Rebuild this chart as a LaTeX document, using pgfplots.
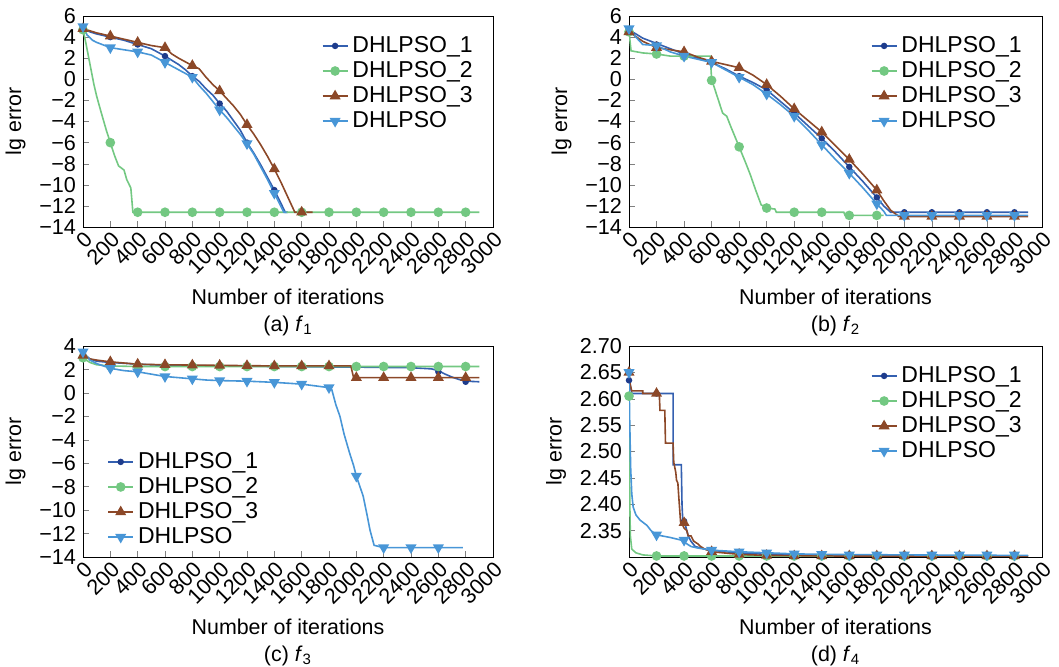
\documentclass[border=0pt]{standalone}
\usepackage{pgfplots}
\pgfplotsset{compat=1.18}
\usepackage{fontspec}
\setmainfont{Liberation Sans}

\definecolor{c1}{RGB}{52,96,176}
\definecolor{c1m}{RGB}{30,60,140}
\definecolor{c2}{RGB}{115,200,130}
\definecolor{c3}{RGB}{140,72,40}
\definecolor{c4}{RGB}{72,150,215}

\pgfplotsset{
  s1/.style={color=c1, line width=0.8pt, mark=*, mark size=1.2pt, mark options={fill=c1m, draw=c1m, solid}},
  s2/.style={color=c2, line width=0.8pt, mark=*, mark size=2pt, mark options={fill=c2, draw=c2, solid}},
  s3/.style={color=c3, line width=0.8pt, mark=triangle*, mark size=2.4pt, mark options={fill=c3, draw=c3, solid}},
  s4/.style={color=c4, line width=0.8pt, mark=triangle*, mark size=2.4pt, mark options={fill=c4, draw=c4, solid, rotate=180}},
  myax/.style={
    scale only axis, height=105.5pt, anchor=north west,
    xmin=0, xmax=3000, xtick={0,200,...,3000},
    tick align=inside, xtick pos=bottom, ytick pos=left,
    major tick length=3pt,
    /pgf/number format/assume math mode=true,
    /pgf/number format/1000 sep={},
    tick label style={font=\fontsize{10.8}{12}\selectfont},
    xticklabel style={rotate=45, anchor=north east, inner sep=1pt},
    label style={font=\fontsize{10.7}{13.5}\selectfont},
    xlabel style={align=center, yshift=-2pt},
    ylabel={lg error},
    legend style={draw=none, fill=none, font=\fontsize{11.5}{12}\selectfont,
      row sep=-1pt, inner sep=1pt},
    legend cell align=left,
    legend image code/.code={
      \draw[##1, mark=none] (0cm,0cm) -- (0.44cm,0cm);
      \draw[##1, only marks] plot coordinates {(0.22cm,0cm)};
    },
  },
  ylog/.style={ymin=-14, ymax=6, ytick={-14,-12,...,6},
    yticklabels={−14,−12,−10,−8,−6,−4,−2,0,2,4,6}},
}

\begin{document}
\begin{tikzpicture}
\path[use as bounding box] (0,0) rectangle (529.5pt,-333pt);

% (a) f1
\begin{axis}[myax, ylog, at={(41.5pt,-8pt)}, width=205pt,
  xlabel={Number of iterations\\(a) \textit{f}\textsubscript{1}},
  legend style={at={(1,1)}, anchor=north east, xshift=-7pt, yshift=-7pt}]
\addplot[s1, mark=none, forget plot] coordinates {(0,4.8)(50,4.5)(100,4.3)(200,4.0)(300,3.7)(400,3.3)(500,2.9)(600,2.2)(700,1.4)(750,0.9)(800,0.3)(850,-0.2)(900,-0.9)(950,-1.5)(1000,-2.3)(1050,-3.0)(1100,-3.9)(1150,-4.8)(1200,-6.0)(1250,-7.0)(1300,-8.1)(1350,-9.3)(1400,-10.5)(1450,-11.8)(1480,-12.6)(1500,-12.6)};
\addplot[s1, only marks, forget plot] coordinates {(0,4.8)(200,4.0)(400,3.3)(600,2.2)(800,0.3)(1000,-2.3)(1200,-6.0)(1400,-10.5)};
\addplot[s2, mark=none, forget plot] coordinates {(0,4.7)(20,3.5)(50,1.5)(80,-0.5)(100,-1.6)(130,-3.0)(170,-4.8)(200,-6.0)(230,-7.2)(260,-8.2)(300,-8.6)(320,-9.5)(350,-10.3)(365,-12.6)(2900,-12.6)};
\addplot[s2, only marks, forget plot] coordinates {(0,4.7)(200,-6.0)(400,-12.6)(600,-12.6)(800,-12.6)(1000,-12.6)(1200,-12.6)(1400,-12.6)(1600,-12.6)(1800,-12.6)(2000,-12.6)(2200,-12.6)(2400,-12.6)(2600,-12.6)(2800,-12.6)};
\addplot[s3, mark=none, forget plot] coordinates {(0,4.8)(100,4.4)(200,4.1)(300,3.8)(400,3.5)(500,3.2)(600,3.0)(650,2.4)(700,2.0)(800,1.3)(850,1.0)(900,0.2)(950,-0.5)(1000,-1.1)(1050,-1.8)(1100,-2.5)(1150,-3.3)(1200,-4.3)(1250,-5.2)(1300,-6.2)(1350,-7.3)(1400,-8.5)(1450,-9.8)(1500,-11.2)(1550,-12.6)(1680,-12.6)};
\addplot[s3, only marks, forget plot] coordinates {(0,4.8)(200,4.1)(400,3.5)(600,3.0)(800,1.3)(1000,-1.1)(1200,-4.3)(1400,-8.5)(1600,-12.6)};
\addplot[s4, mark=none, forget plot] coordinates {(0,5.0)(30,4.2)(70,3.7)(100,3.5)(200,3.0)(300,2.8)(400,2.6)(500,2.3)(600,1.6)(700,0.9)(800,0.2)(850,-0.6)(900,-1.3)(950,-2.1)(1000,-2.9)(1050,-3.6)(1100,-4.4)(1150,-5.2)(1200,-6.1)(1250,-7.1)(1300,-8.3)(1350,-9.5)(1400,-10.8)(1450,-12.1)(1470,-12.6)(1490,-12.6)};
\addplot[s4, only marks, forget plot] coordinates {(0,5.0)(200,3.0)(400,2.6)(600,1.6)(800,0.2)(1000,-2.9)(1200,-6.1)(1400,-10.8)};
\addlegendimage{s1}\addlegendimage{s2}\addlegendimage{s3}\addlegendimage{s4}
\legend{DHLPSO\_1,DHLPSO\_2,DHLPSO\_3,DHLPSO}
\end{axis}

% (b) f2
\begin{axis}[myax, ylog, at={(314.5pt,-8pt)}, width=206.5pt,
  xlabel={Number of iterations\\(b) \textit{f}\textsubscript{2}},
  legend style={at={(1,1)}, anchor=north east, xshift=-7pt, yshift=-7pt}]
\addplot[s1, mark=none, forget plot] coordinates {(0,4.7)(100,3.9)(200,3.4)(300,2.9)(400,2.4)(500,2.0)(600,1.6)(700,1.0)(800,0.3)(900,-0.3)(1000,-1.0)(1100,-2.1)(1200,-3.2)(1300,-4.4)(1400,-5.6)(1500,-6.9)(1600,-8.3)(1700,-9.7)(1800,-11.2)(1850,-12.0)(1900,-12.6)(2900,-12.6)};
\addplot[s1, only marks, forget plot] coordinates {(0,4.7)(200,3.3)(400,2.4)(600,1.6)(800,0.3)(1000,-1.0)(1200,-3.2)(1400,-5.6)(1600,-8.3)(1800,-11.2)(2000,-12.6)(2200,-12.6)(2400,-12.6)(2600,-12.6)(2800,-12.6)};
\addplot[s2, mark=none, forget plot] coordinates {(0,4.5)(15,2.7)(100,2.5)(200,2.4)(300,2.2)(400,2.2)(500,2.2)(590,2.2)(600,0.0)(640,-1.6)(680,-3.2)(710,-3.5)(740,-4.5)(800,-6.4)(850,-8.0)(880,-9.0)(920,-10.5)(960,-11.9)(1000,-12.2)(1060,-12.3)(1070,-12.6)(1560,-12.6)(1570,-12.9)(1850,-12.9)};
\addplot[s2, only marks, forget plot] coordinates {(0,4.5)(200,2.4)(400,2.2)(600,-0.1)(800,-6.4)(1000,-12.2)(1200,-12.6)(1400,-12.6)(1600,-12.9)(1800,-12.9)};
\addplot[s3, mark=none, forget plot] coordinates {(0,4.5)(100,3.6)(200,3.0)(300,2.8)(400,2.6)(500,2.1)(600,1.7)(700,1.4)(800,1.1)(900,0.4)(1000,-0.5)(1100,-1.6)(1200,-2.8)(1300,-3.9)(1400,-5.0)(1500,-6.3)(1600,-7.6)(1700,-9.0)(1800,-10.5)(1850,-11.5)(1900,-12.4)(1930,-12.7)(1960,-13.0)(2900,-13.0)};
\addplot[s3, only marks, forget plot] coordinates {(0,4.5)(200,3.0)(400,2.6)(600,1.7)(800,1.1)(1000,-0.5)(1200,-2.8)(1400,-5.0)(1600,-7.6)(1800,-10.5)(2000,-13.0)(2200,-13.0)(2400,-13.0)(2600,-13.0)(2800,-13.0)};
\addplot[s4, mark=none, forget plot] coordinates {(0,4.8)(50,4.0)(100,3.3)(200,3.2)(300,2.6)(400,2.2)(500,1.9)(600,1.6)(700,0.9)(800,0.2)(900,-0.5)(1000,-1.4)(1100,-2.4)(1200,-3.5)(1300,-4.8)(1400,-6.2)(1500,-7.6)(1600,-8.9)(1700,-10.3)(1800,-11.8)(1850,-12.5)(1870,-12.9)(2900,-12.9)};
\addplot[s4, only marks, forget plot] coordinates {(0,4.8)(200,3.2)(400,2.2)(600,1.6)(800,0.2)(1000,-1.4)(1200,-3.5)(1400,-6.2)(1600,-8.9)(1800,-11.8)(2000,-12.9)(2200,-12.9)(2400,-12.9)(2600,-12.9)(2800,-12.9)};
\addlegendimage{s1}\addlegendimage{s2}\addlegendimage{s3}\addlegendimage{s4}
\legend{DHLPSO\_1,DHLPSO\_2,DHLPSO\_3,DHLPSO}
\end{axis}

% (c) f3
\begin{axis}[myax, at={(41.5pt,-173pt)}, width=205pt,
  ymin=-14, ymax=4, ytick={-14,-12,...,4},
  yticklabels={−14,−12,−10,−8,−6,−4,−2,0,2,4},
  xlabel={Number of iterations\\(c) \textit{f}\textsubscript{3}},
  legend style={at={(0,0)}, anchor=south west, xshift=11pt, yshift=2pt}]
\addplot[s1, mark=none, forget plot] coordinates {(0,3.4)(50,2.9)(100,2.7)(200,2.6)(400,2.45)(600,2.35)(1000,2.3)(1400,2.25)(2000,2.2)(2400,2.15)(2550,2.05)(2600,1.9)(2650,1.6)(2700,1.35)(2750,1.15)(2800,1.0)(2900,0.95)};
\addplot[s1, only marks, forget plot] coordinates {(0,3.4)(200,2.6)(400,2.45)(600,2.35)(800,2.3)(1000,2.3)(1200,2.28)(1400,2.25)(1600,2.23)(1800,2.2)(2000,2.2)(2200,2.18)(2400,2.15)(2600,1.8)(2800,0.95)};
\addplot[s2, mark=none, forget plot] coordinates {(0,3.0)(50,2.6)(100,2.4)(200,2.3)(400,2.25)(2900,2.25)};
\addplot[s2, only marks, forget plot] coordinates {(0,3.0)(200,2.3)(400,2.25)(600,2.25)(800,2.25)(1000,2.25)(1200,2.25)(1400,2.25)(1600,2.25)(1800,2.25)(2000,2.25)(2200,2.25)(2400,2.25)(2600,2.25)(2800,2.25)};
\addplot[s3, mark=none, forget plot] coordinates {(0,3.2)(50,2.9)(100,2.8)(200,2.65)(400,2.45)(600,2.4)(1000,2.35)(1400,2.3)(1960,2.3)(1980,1.3)(2900,1.3)};
\addplot[s3, only marks, forget plot] coordinates {(0,3.2)(200,2.65)(400,2.45)(600,2.4)(800,2.37)(1000,2.35)(1200,2.32)(1400,2.3)(1600,2.3)(1800,2.3)(2000,1.3)(2200,1.3)(2400,1.3)(2600,1.3)(2800,1.3)};
\addplot[s4, mark=none, forget plot] coordinates {(0,3.5)(50,2.8)(100,2.5)(200,2.1)(300,1.9)(400,1.8)(500,1.6)(600,1.4)(700,1.3)(800,1.2)(900,1.1)(1000,1.05)(1200,1.0)(1400,0.9)(1600,0.75)(1700,0.6)(1800,0.45)(1820,0.3)(1850,-1.0)(1880,-2.0)(1910,-3.5)(1950,-5.1)(1980,-6.2)(2000,-7.1)(2050,-8.8)(2080,-10.5)(2100,-11.7)(2130,-13.0)(2200,-13.2)(2780,-13.2)};
\addplot[s4, only marks, forget plot] coordinates {(0,3.5)(200,2.1)(400,1.8)(600,1.4)(800,1.2)(1000,1.05)(1200,1.0)(1400,0.9)(1600,0.75)(1800,0.45)(2000,-7.1)(2200,-13.2)(2400,-13.2)(2600,-13.2)};
\addlegendimage{s1}\addlegendimage{s2}\addlegendimage{s3}\addlegendimage{s4}
\legend{DHLPSO\_1,DHLPSO\_2,DHLPSO\_3,DHLPSO}
\end{axis}

% (d) f4
\begin{axis}[myax, at={(314.5pt,-173pt)}, width=206.5pt,
  ymin=2.30, ymax=2.70, ytick={2.35,2.40,...,2.70},
  yticklabels={2.35,2.40,2.45,2.50,2.55,2.60,2.65,2.70},
  xlabel={Number of iterations\\(d) \textit{f}\textsubscript{4}},
  legend style={at={(1,1)}, anchor=north east, xshift=-7pt, yshift=-7pt}]
\addplot[s1, mark=none, forget plot] coordinates {(0,2.635)(10,2.625)(20,2.61)(320,2.61)(320,2.475)(380,2.475)(385,2.40)(390,2.372)(410,2.36)(430,2.34)(450,2.33)(480,2.32)(550,2.315)(600,2.313)(700,2.31)(800,2.308)(1000,2.305)(1400,2.303)(2000,2.302)(2900,2.302)};
\addplot[s1, only marks, forget plot] coordinates {(0,2.635)(200,2.61)(400,2.368)(600,2.313)(800,2.308)(1000,2.305)(1200,2.304)(1400,2.303)(1600,2.302)(1800,2.302)(2000,2.302)(2200,2.302)(2400,2.302)(2600,2.302)(2800,2.302)};
\addplot[s2, mark=none, forget plot] coordinates {(0,2.605)(3,2.50)(6,2.40)(10,2.34)(20,2.315)(50,2.308)(100,2.304)(200,2.302)(2900,2.302)};
\addplot[s2, only marks, forget plot] coordinates {(0,2.605)(200,2.302)(400,2.302)(600,2.302)(800,2.302)(1000,2.302)(1200,2.302)(1400,2.302)(1600,2.302)(1800,2.302)(2000,2.302)(2200,2.302)(2400,2.302)(2600,2.302)(2800,2.302)};
\addplot[s3, mark=none, forget plot] coordinates {(0,2.65)(10,2.625)(20,2.615)(100,2.615)(100,2.61)(220,2.61)(225,2.578)(260,2.578)(265,2.516)(320,2.516)(325,2.48)(340,2.46)(345,2.446)(355,2.44)(360,2.42)(375,2.365)(390,2.36)(400,2.355)(420,2.35)(430,2.34)(450,2.34)(470,2.33)(500,2.325)(520,2.32)(550,2.315)(600,2.31)(800,2.305)(1000,2.303)(1500,2.302)(2900,2.302)};
\addplot[s3, only marks, forget plot] coordinates {(0,2.65)(200,2.61)(400,2.365)(600,2.31)(800,2.305)(1000,2.303)(1200,2.302)(1400,2.302)(1600,2.302)(1800,2.302)(2000,2.302)(2200,2.302)(2400,2.302)(2600,2.302)(2800,2.302)};
\addplot[s4, mark=none, forget plot] coordinates {(0,2.65)(5,2.56)(12,2.47)(20,2.42)(30,2.395)(50,2.38)(80,2.37)(130,2.36)(160,2.35)(200,2.342)(300,2.337)(380,2.332)(420,2.325)(450,2.32)(500,2.317)(600,2.313)(800,2.31)(1000,2.308)(1200,2.306)(1400,2.305)(2000,2.304)(2900,2.303)};
\addplot[s4, only marks, forget plot] coordinates {(0,2.65)(200,2.342)(400,2.332)(600,2.313)(800,2.31)(1000,2.308)(1200,2.306)(1400,2.305)(1600,2.304)(1800,2.304)(2000,2.304)(2200,2.304)(2400,2.304)(2600,2.304)(2800,2.304)};
\addlegendimage{s1}\addlegendimage{s2}\addlegendimage{s3}\addlegendimage{s4}
\legend{DHLPSO\_1,DHLPSO\_2,DHLPSO\_3,DHLPSO}
\end{axis}
\end{tikzpicture}
\end{document}
